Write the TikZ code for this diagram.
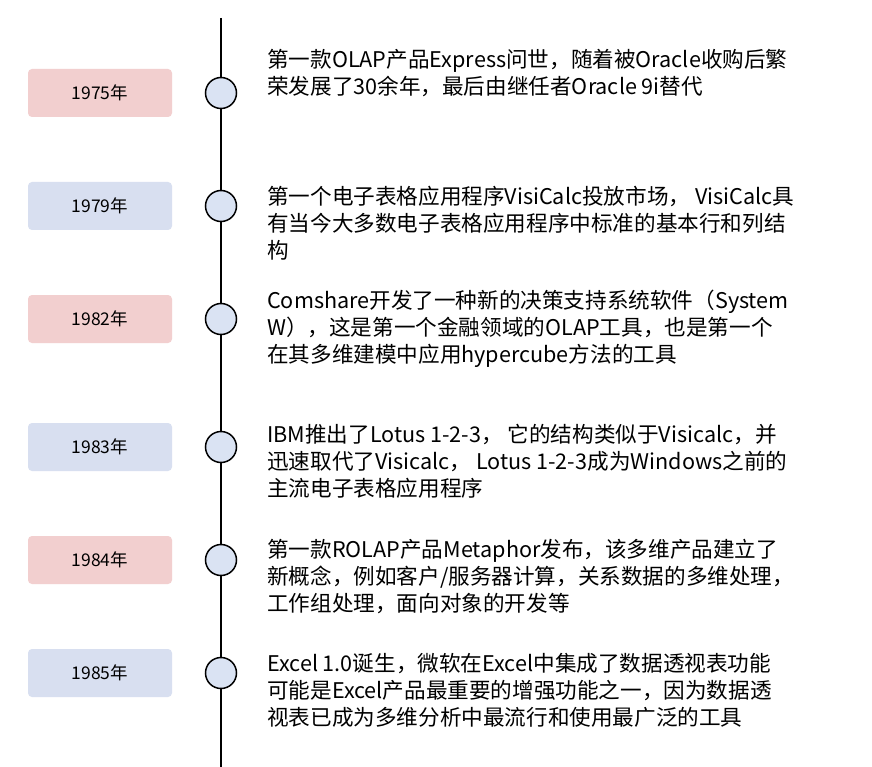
\documentclass[tikz,border=0pt]{standalone}
\usepackage{fontspec}
\setmainfont{Noto Sans CJK SC}
\begin{document}
\begin{tikzpicture}[x=1pt,y=-1pt,
  yearbox/.style={rounded corners=4pt,draw=none,minimum width=144pt,minimum height=48pt,font=\fontsize{17.5}{20}\selectfont},
  dot/.style={circle,draw=black,line width=1.5pt,minimum size=31pt,inner sep=0pt},
  desc/.style={anchor=west,align=left,inner sep=0pt,font=\fontsize{21.6}{27}\selectfont}]
\definecolor{pinkbox}{HTML}{F2CFCF}
\definecolor{bluebox}{HTML}{D8DFF0}
\definecolor{dotfill}{HTML}{DAE3F3}
\useasboundingbox (0,0) rectangle (872,767);
\fill[white] (0,0) rectangle (872,767);
\coordinate (top) at (221,18);
\coordinate (bot) at (221,767);
\draw[line width=2.2pt] (top) -- (bot);
\foreach \y/\yr/\c [count=\i] in {93/1975/pinkbox,206/1979/bluebox,319/1982/pinkbox,447/1983/bluebox,560/1984/pinkbox,673/1985/bluebox}{
  \node[yearbox,fill=\c] (y\i) at (100,\y) {\yr 年};
  \node[dot,fill=dotfill] (d\i) at (221,\y) {};
}
\node[desc] (t1) at (267,73.5) {第一款OLAP产品Express问世，随着被Oracle收购后繁\\荣发展了30余年，最后由继任者Oracle 9i替代};
\node[desc] (t2) at (267,223) {第一个电子表格应用程序VisiCalc投放市场， VisiCalc具\\有当今大多数电子表格应用程序中标准的基本行和列结\\构};
\node[desc] (t3) at (267,329) {Comshare开发了一种新的决策支持系统软件（System\\W），这是第一个金融领域的OLAP工具，也是第一个\\在其多维建模中应用hypercube方法的工具};
\node[desc] (t4) at (267,461.5) {IBM推出了Lotus 1-2-3， 它的结构类似于Visicalc，并\\迅速取代了Visicalc， Lotus 1-2-3成为Windows之前的\\主流电子表格应用程序};
\node[desc] (t5) at (267,577) {第一款ROLAP产品Metaphor发布，该多维产品建立了\\新概念，例如客户/服务器计算，关系数据的多维处理，\\工作组处理，面向对象的开发等};
\node[desc] (t6) at (267,690.5) {Excel 1.0诞生，微软在Excel中集成了数据透视表功能\\可能是Excel产品最重要的增强功能之一，因为数据透\\视表已成为多维分析中最流行和使用最广泛的工具};
\end{tikzpicture}
\end{document}
